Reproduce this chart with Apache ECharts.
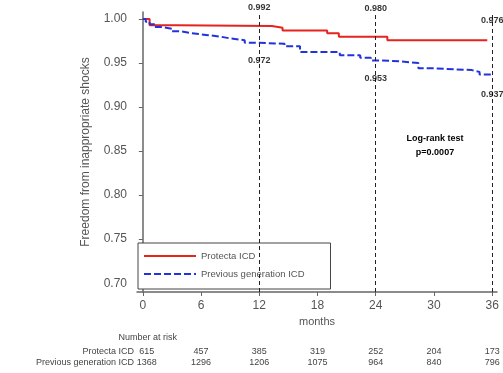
<!DOCTYPE html>
<html>
<head>
<meta charset="utf-8">
<script src="https://cdn.jsdelivr.net/npm/echarts@6/dist/echarts.min.js"></script>
<style>html,body{margin:0;padding:0;background:#fff;}#c{width:503px;height:373px;}</style>
</head>
<body>
<div id="c"></div>
<script>
// ---- data ----
const protectaMonths = [0, 0.7, 3.5, 13.3, 14.4, 19, 20.2, 25.2, 35.5];
const protectaSurv   = [1.0, 0.993, 0.992, 0.990, 0.987, 0.984, 0.980, 0.976, 0.976];
const prevMonths = [0, 0.3, 0.7, 1.2, 2, 3, 4, 5, 6.5, 8, 9, 10.5, 12, 14.6, 16.2, 20.3, 22.4, 23.5, 24.5, 26.5, 28.4, 30.1, 33.9, 34.7, 36];
const prevSurv   = [1.0, 0.997, 0.994, 0.991, 0.989, 0.986, 0.984, 0.982, 0.980, 0.978, 0.976, 0.973, 0.972, 0.969, 0.9625, 0.959, 0.956, 0.953, 0.952, 0.950, 0.944, 0.942, 0.940, 0.937, 0.937];
const annotMonths = [12, 24, 36];
const annotProtecta = [0.992, 0.980, 0.976];
const annotPrev = [0.972, 0.953, 0.937];
const xTicks = [0, 6, 12, 18, 24, 30, 36];
const yTicks = [0.70, 0.75, 0.80, 0.85, 0.90, 0.95, 1.00];
const riskMonths = [0, 6, 12, 18, 24, 30, 36];
const riskProtecta = [615, 457, 385, 319, 252, 204, 173];
const riskPrev = [1368, 1296, 1206, 1075, 964, 840, 796];
const seriesNames = ['Protecta ICD', 'Previous generation ICD'];

// ---- styles ----
const FONT = 'Liberation Sans';
const protectaOffsets = [-19, -28, -20];
const prevOffsets = [17, 18, 20];

const chart = echarts.init(document.getElementById('c'), null, {renderer: 'canvas'});

function annotData(vals, offs) {
  return annotMonths.map((m, i) => ({
    value: [m, vals[i]],
    label: {offset: [0, offs[i]]}
  }));
}
const annotLabel = {
  show: true, position: 'inside', color: '#000', fontFamily: FONT,
  fontWeight: 'bold', fontSize: 9,
  formatter: p => p.value[1].toFixed(3)
};

chart.setOption({
  animation: false,
  backgroundColor: '#fff',
  textStyle: {fontFamily: FONT},
  grid: {left: 137, right: 6, top: 12, bottom: 81},
  xAxis: {
    type: 'value', min: -0.6, max: 36.5,
    name: 'months', nameLocation: 'middle', nameGap: 23,
    nameTextStyle: {color: '#555', fontSize: 11, fontFamily: FONT},
    axisLine: {lineStyle: {color: '#666', width: 1.5}},
    axisTick: {customValues: xTicks, length: 4, lineStyle: {color: '#666'}},
    axisLabel: {customValues: xTicks, color: '#555', fontSize: 12, margin: 8, fontFamily: FONT},
    splitLine: {show: false}
  },
  yAxis: {
    type: 'value', min: 0.69, max: 1.008,
    name: 'Freedom from inappropriate shocks', nameLocation: 'middle', nameGap: 45,
    nameTextStyle: {color: '#555', fontSize: 12, fontFamily: FONT},
    axisLine: {show: true, lineStyle: {color: '#666', width: 1.5}},
    axisTick: {show: true, customValues: yTicks, length: 4, lineStyle: {color: '#666'}},
    axisLabel: {customValues: yTicks, color: '#555', fontSize: 12, margin: 10, fontFamily: FONT,
      formatter: v => v.toFixed(2)},
    splitLine: {show: false}
  },
  legend: {
    data: seriesNames, orient: 'vertical', left: 138, top: 243,
    itemWidth: 52, itemHeight: 10, itemGap: 8,
    padding: [8, 26, 10, 5],
    borderColor: '#444', borderWidth: 1, backgroundColor: '#fff',
    itemStyle: {opacity: 0},
    textStyle: {fontSize: 9.5, color: '#555', fontFamily: FONT}
  },
  series: [
    {
      name: seriesNames[0], type: 'line', step: 'end', symbol: 'none',
      data: protectaMonths.map((m, i) => [m, protectaSurv[i]]),
      lineStyle: {color: '#e5231f', width: 2}, itemStyle: {color: '#e5231f'},
      z: 3,
      markLine: {
        silent: true, symbol: 'none', label: {show: false},
        lineStyle: {color: '#222', type: [4, 3], width: 1},
        data: annotMonths.map(m => ({xAxis: m}))
      }
    },
    {
      name: seriesNames[1], type: 'line', step: 'end', symbol: 'none',
      data: prevMonths.map((m, i) => [m, prevSurv[i]]),
      lineStyle: {color: '#2233dd', width: 2, type: [7, 3]}, itemStyle: {color: '#2233dd'},
      z: 3
    },
    {
      type: 'scatter', symbolSize: 0, silent: true, z: 5,
      data: annotData(annotProtecta, protectaOffsets), label: annotLabel
    },
    {
      type: 'scatter', symbolSize: 0, silent: true, z: 5,
      data: annotData(annotPrev, prevOffsets), label: annotLabel
    }
  ]
});

// Number-at-risk table and log-rank text
const tx = m => chart.convertToPixel({xAxisIndex: 0}, m);
const small = {fontFamily: FONT, fontSize: 9, fill: '#444'};
const g = [];
g.push({type: 'text', x: 177, y: 338, style: Object.assign({text: 'Number at risk', align: 'right', verticalAlign: 'middle'}, small)});
g.push({type: 'text', x: 134, y: 352, style: Object.assign({text: seriesNames[0], align: 'right', verticalAlign: 'middle'}, small)});
g.push({type: 'text', x: 134, y: 363, style: Object.assign({text: seriesNames[1], align: 'right', verticalAlign: 'middle'}, small)});
riskMonths.forEach((m, i) => {
  const x = tx(m) + (i === 0 ? 4 : 0);
  g.push({type: 'text', x: x, y: 352, style: Object.assign({text: String(riskProtecta[i]), align: 'center', verticalAlign: 'middle'}, small)});
  g.push({type: 'text', x: x, y: 363, style: Object.assign({text: String(riskPrev[i]), align: 'center', verticalAlign: 'middle'}, small)});
});
g.push({type: 'text', x: 435, y: 139, style: {text: 'Log-rank test', align: 'center', verticalAlign: 'middle', fontFamily: FONT, fontSize: 9, fontWeight: 'bold', fill: '#000'}});
g.push({type: 'text', x: 435, y: 153, style: {text: 'p=0.0007', align: 'center', verticalAlign: 'middle', fontFamily: FONT, fontSize: 9, fontWeight: 'bold', fill: '#000'}});
chart.setOption({graphic: g});
</script>
</body>
</html>
